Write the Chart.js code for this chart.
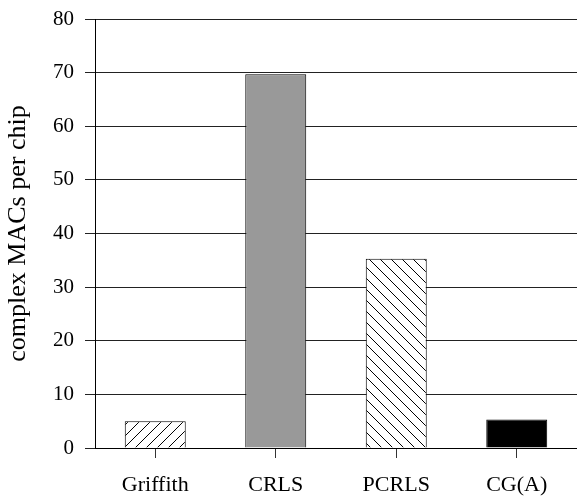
<!DOCTYPE html>
<html>
<head>
<meta charset="utf-8">
<script src="https://cdn.jsdelivr.net/npm/chart.js@4"></script>
<style>
html,body{margin:0;padding:0;background:#fff;}
#wrap{width:577px;height:497px;position:relative;}
</style>
</head>
<body>
<div id="wrap"><canvas id="c" width="577" height="497"></canvas></div>
<script>
const categories = ["Griffith", "CRLS", "PCRLS", "CG(A)"];
const macsPerChip = [5.0, 69.7, 35.3, 5.3];
const yTicks = [0, 10, 20, 30, 40, 50, 60, 70, 80];

function hatch(dir) {
  const s = 11;
  const cv = document.createElement('canvas');
  cv.width = s; cv.height = s;
  const g = cv.getContext('2d');
  g.fillStyle = '#fff';
  g.fillRect(0, 0, s, s);
  g.strokeStyle = '#000';
  g.lineWidth = 1;
  g.beginPath();
  if (dir === '/') {
    g.moveTo(-1, s + 1); g.lineTo(s + 1, -1);
    g.moveTo(-1, 1); g.lineTo(1, -1);
    g.moveTo(s - 1, s + 1); g.lineTo(s + 1, s - 1);
  } else {
    g.moveTo(-1, -1); g.lineTo(s + 1, s + 1);
    g.moveTo(-1, s - 1); g.lineTo(1, s + 1);
    g.moveTo(s - 1, -1); g.lineTo(s + 1, 1);
  }
  g.stroke();
  return document.getElementById('c').getContext('2d').createPattern(cv, 'repeat');
}

const fills = [hatch('/'), '#999999', hatch('\\'), '#000000'];

new Chart(document.getElementById('c'), {
  type: 'bar',
  data: {
    labels: categories,
    datasets: [{
      data: macsPerChip,
      backgroundColor: fills,
      borderColor: '#000',
      borderWidth: 1,
      barPercentage: 0.506,
      categoryPercentage: 1.0
    }]
  },
  options: {
    responsive: false,
    animation: false,
    devicePixelRatio: 1,
    layout: { padding: { top: 19, right: 0, left: 0, bottom: 0 } },
    plugins: { legend: { display: false }, tooltip: { enabled: false } },
    scales: {
      x: {
        grid: { display: true, drawOnChartArea: false, drawTicks: true, tickLength: 10, offset: false, color: '#333' },
        border: { display: true, color: '#000', width: 1 },
        ticks: { color: '#000', font: { family: 'Liberation Serif', size: 22 }, padding: 14, maxRotation: 0 },
        afterFit: function (s) { s.height = 49; s.paddingLeft = 0; s.paddingRight = 0; }
      },
      y: {
        min: 0, max: 80,
        afterBuildTicks: function (s) { s.ticks = yTicks.map(v => ({ value: v })); },
        grid: { color: '#222', lineWidth: 1, drawTicks: true, tickLength: 10 },
        border: { display: true, color: '#000', width: 1 },
        ticks: { color: '#000', font: { family: 'Liberation Serif', size: 21 }, padding: 11 },
        title: { display: true, text: 'complex MACs per chip', color: '#000', font: { family: 'Liberation Serif', size: 26 }, padding: { top: 3, bottom: 0 } },
        afterFit: function (s) { s.width = 95; s.paddingTop = 0; s.paddingBottom = 0; }
      }
    }
  },
  plugins: [{
    id: 'bg',
    beforeDraw: function (ch) {
      const g = ch.ctx; g.save(); g.fillStyle = '#fff'; g.fillRect(0, 0, ch.width, ch.height); g.restore();
    }
  }]
});
</script>
</body>
</html>
